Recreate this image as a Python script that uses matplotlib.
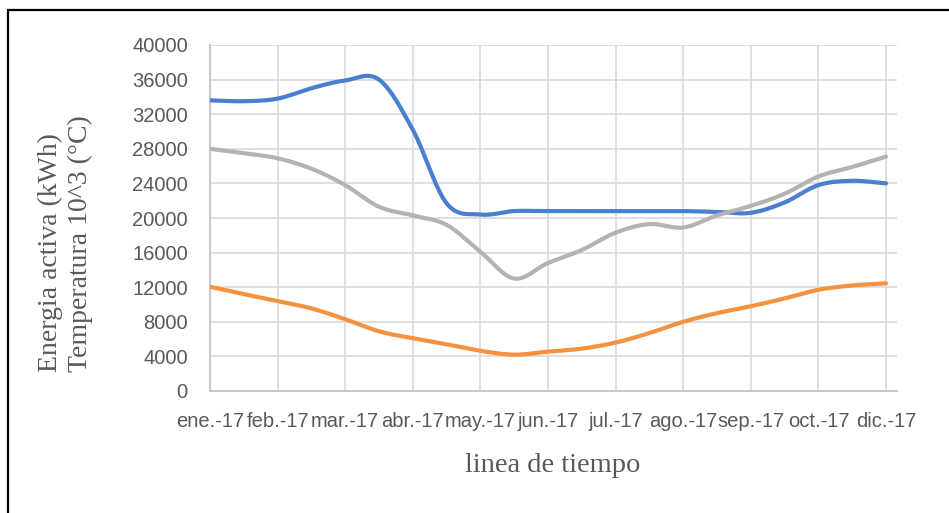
import numpy as np
import matplotlib.pyplot as plt
from matplotlib.patches import Rectangle

# month labels (one per gridline)
months = ["ene.-17", "feb.-17", "mar.-17", "abr.-17", "may.-17", "jun.-17",
          "jul.-17", "ago.-17", "sep.-17", "oct.-17", "dic.-17"]

# readings every half month step (0, 0.5, ... 10)
steps = np.arange(0, 10.5, 0.5)
energia = [33600, 33500, 33800, 35000, 35900, 36000, 30200, 21700, 20400, 20800,
           20800, 20800, 20800, 20800, 20800, 20700, 20600, 21800, 23800, 24300, 24000]
temperatura = [28000, 27500, 26900, 25700, 23800, 21300, 20300, 19200, 16100, 13000,
               14800, 16300, 18300, 19300, 18900, 20300, 21400, 22800, 24800, 25900, 27100]
otra = [12050, 11200, 10400, 9550, 8300, 6900, 6100, 5400, 4650, 4200,
        4550, 4900, 5600, 6700, 8000, 9000, 9800, 10700, 11700, 12200, 12450]

colors = ["#4a7fd0", "#f5913f", "#b3b3b3"]


def smooth(x, y, n=30):
    # catmull-rom curve through the points, like excel's smoothed line
    x = np.asarray(x, float)
    y = np.asarray(y, float)
    px = np.concatenate([[2 * x[0] - x[1]], x, [2 * x[-1] - x[-2]]])
    py = np.concatenate([[2 * y[0] - y[1]], y, [2 * y[-1] - y[-2]]])
    xs, ys = [], []
    t = np.linspace(0, 1, n)
    for i in range(1, len(px) - 2):
        for p, out in ((px, xs), (py, ys)):
            p0, p1, p2, p3 = p[i - 1], p[i], p[i + 1], p[i + 2]
            out.append(0.5 * (2 * p1 + (-p0 + p2) * t
                              + (2 * p0 - 5 * p1 + 4 * p2 - p3) * t ** 2
                              + (-p0 + 3 * p1 - 3 * p2 + p3) * t ** 3))
    return np.concatenate(xs), np.concatenate(ys)


fig = plt.figure(figsize=(9.49, 5.13), dpi=100)
ax = fig.add_axes([210 / 949, 122 / 513, 687 / 949, 346 / 513])

for series, c in zip([energia, otra, temperatura], colors):
    sx, sy = smooth(steps, series)
    ax.plot(sx, sy, color=c, lw=3, solid_capstyle="round", zorder=3)

ax.set_xlim(0, 10 + 11 / 67.6)
ax.set_ylim(0, 40000)
ax.set_yticks(np.arange(0, 40001, 4000))
ax.set_xticks(np.arange(len(months)))
ax.set_xticklabels(months)
ax.grid(True, color="#d9d9d9", lw=1.2)
ax.set_axisbelow(True)
for s in ["top", "right"]:
    ax.spines[s].set_visible(False)
for s in ["left", "bottom"]:
    ax.spines[s].set_color("#c4c4c4")
    ax.spines[s].set_linewidth(1.3)
ax.tick_params(axis="both", length=0, labelsize=14.5, labelcolor="#595959")
ax.tick_params(axis="y", pad=16)
ax.tick_params(axis="x", pad=15)
for lab in ax.get_xticklabels() + ax.get_yticklabels():
    lab.set_family("Liberation Sans")

fig.text(553 / 949, 1 - 465 / 513, "linea de tiempo", ha="center", va="center",
         family="Liberation Serif", fontsize=20.5, color="#595959")
fig.text(65 / 949, 1 - 372 / 513, "Energia activa (kWh)\nTemperatura 10^3 (°C)",
         rotation=90, ha="center", va="bottom", multialignment="left",
         family="Liberation Serif", fontsize=20, color="#595959", linespacing=1.25)

fig.patches.append(Rectangle((8 / 949, -0.1), 1.2, 1 - 10 / 513 + 0.1,
                             transform=fig.transFigure, fill=False,
                             edgecolor="black", lw=1.6))

fig.savefig("out.png", dpi=100)
